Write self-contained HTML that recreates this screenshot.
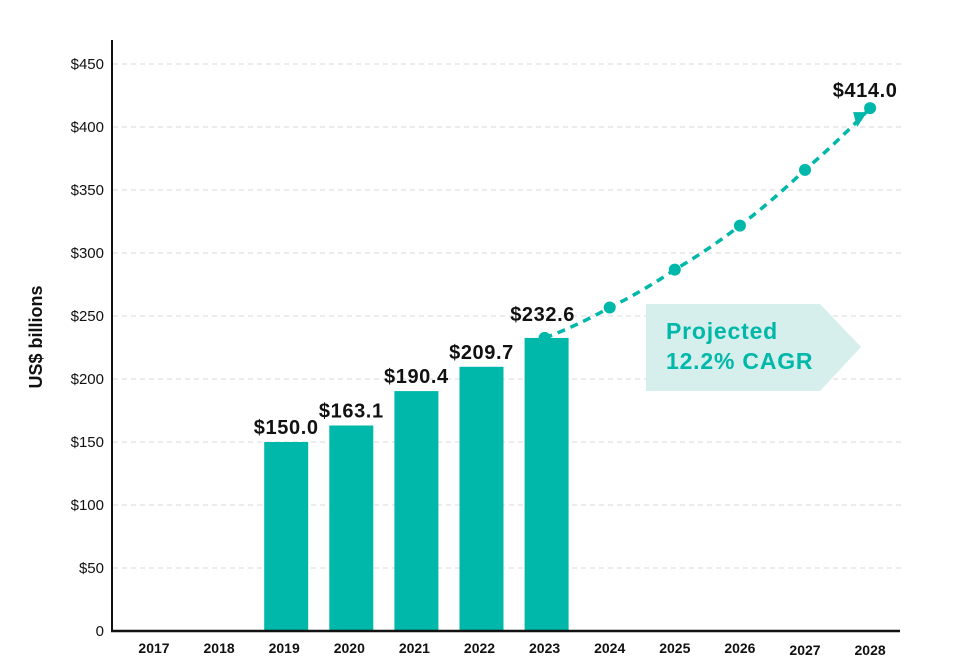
<!DOCTYPE html>
<html><head><meta charset="utf-8"><style>
body{margin:0;background:#fff;}
svg{display:block;font-family:"Liberation Sans",sans-serif;}
</style></head><body>
<svg id="chart" width="955" height="670"></svg>
<script>
const yTicks=[0,50,100,150,200,250,300,350,400,450];
const tickLabels=["0","$50","$100","$150","$200","$250","$300","$350","$400","$450"];
const years=["2017","2018","2019","2020","2021","2022","2023","2024","2025","2026","2027","2028"];
const barYears=["2019","2020","2021","2022","2023"];
const barValues=[150.0,163.1,190.4,209.7,232.6];
const projYears=["2023","2024","2025","2026","2027","2028"];
const projValues=[232.6,256.7,286.8,321.7,366.0,415.0];
const barLabels=["$150.0","$163.1","$190.4","$209.7","$232.6"];
const endLabel="$414.0";

const NS="http://www.w3.org/2000/svg";
const svg=document.getElementById('chart');
const y0=631, pxPer=(631-64)/450;
const yS=v=>y0-v*pxPer;
const xS=yr=>154+(years.indexOf(yr))*65.1;
function mk(t,a,txt){const e=document.createElementNS(NS,t);for(const k in a)e.setAttribute(k,a[k]);if(txt!=null)e.textContent=txt;svg.appendChild(e);return e;}
const teal="#00b8a9";

yTicks.forEach((v,i)=>{
  if(v>0){const g=mk('line',{x1:113,x2:902,y1:yS(v),y2:yS(v),stroke:'#d8d8d8','stroke-dasharray':'5,4','stroke-width':1});
  
  }
  const t=mk('text',{x:104,y:yS(v)+5,'text-anchor':'end','font-size':15,fill:'#111'},tickLabels[i]);
  
  
});
const yt=mk('text',{x:0,y:0,'font-size':18,'font-weight':'bold',fill:'#111','text-anchor':'middle',transform:'translate(42,337) rotate(-90)'},'US$ billions');



const arr=mk('polygon',{points:'646,304 820,304 861,347 820,391 646,391',fill:'#d6eeec'});


const c1=mk('text',{x:666,y:339,'font-size':23,'font-weight':'bold',fill:teal,'letter-spacing':0.8},'Projected');


const c2=mk('text',{x:666,y:369,'font-size':23,'font-weight':'bold',fill:teal,'letter-spacing':0.8},'12.2% CAGR');



barYears.forEach((yr,i)=>{
  const cx=xS(yr)+2,w=44;
  const b=mk('rect',{x:cx-w/2,y:yS(barValues[i]),width:w,height:y0-yS(barValues[i]),fill:teal});
  
  
  const l=mk('text',{x:cx,y:yS(barValues[i])-8,'text-anchor':'middle','font-size':20,'font-weight':'bold',fill:'#111','letter-spacing':0.6},barLabels[i]);
  if(i===4){l.setAttribute('x',cx-4);l.setAttribute('y',yS(barValues[i])-17);}
  
  
});

const pts=projYears.map((yr,i)=>[xS(yr),yS(projValues[i])]);
let d='M'+pts[0][0]+','+pts[0][1];
for(let i=1;i<pts.length;i++){const p=pts[i-1],q=pts[i];d+=' Q'+((p[0]+q[0])/2)+','+((p[1]+q[1])/2+3)+' '+q[0]+','+q[1];}
const ln=mk('path',{d:d,fill:'none',stroke:teal,'stroke-width':3.5,'stroke-dasharray':'8,6'});


pts.forEach((p,i)=>{
  const c=mk('circle',{cx:p[0],cy:p[1],r:6,fill:teal});
  
  
});
const last=pts[pts.length-1];
const ah=mk('polygon',{points:(last[0]-17)+','+(last[1]+4)+' '+(last[0]-3)+','+(last[1]+4)+' '+(last[0]-13)+','+(last[1]+19),fill:teal});


const el=mk('text',{x:last[0]-5,y:last[1]-11,'text-anchor':'middle','font-size':20,'font-weight':'bold',fill:'#111','letter-spacing':0.6},endLabel);



const ya=mk('line',{x1:112,x2:112,y1:40,y2:632,stroke:'#111','stroke-width':2});


const xa=mk('line',{x1:111,x2:900,y1:631,y2:631,stroke:'#111','stroke-width':2.5});


years.forEach((yr,i)=>{
  const t=mk('text',{x:xS(yr),y:i>=10?655:653,'text-anchor':'middle','font-size':14,'font-weight':'bold',fill:'#111'},yr);
  
  
});
</script>
</body></html>
